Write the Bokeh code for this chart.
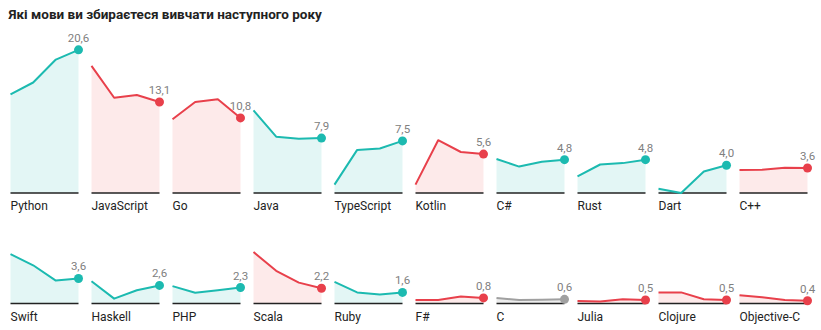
from bokeh.plotting import figure
from bokeh.models import Range1d, Label, ColumnDataSource
from bokeh.embed import file_html
from bokeh.resources import INLINE
from bokeh.core.properties import value

title = "Які мови ви збираєтеся вивчати наступного року"

languages = ["Python", "JavaScript", "Go", "Java", "TypeScript", "Kotlin", "C#", "Rust", "Dart", "C++",
             "Swift", "Haskell", "PHP", "Scala", "Ruby", "F#", "C", "Julia", "Clojure", "Objective-C"]

# four survey points per language (share, %)
point1 = [14.2, 18.3, 10.6, 11.9, 1.2, 1.2, 4.9, 2.4, 0.6, 3.3,
          7.1, 3.2, 2.5, 7.4, 3.1, 0.5, 0.8, 0.35, 1.6, 1.2]
point2 = [15.9, 13.7, 13.1, 8.1, 6.2, 7.6, 3.8, 4.1, 0.0, 3.35,
          5.5, 0.7, 1.55, 4.7, 1.6, 0.5, 0.5, 0.3, 1.6, 0.9]
point3 = [19.2, 14.1, 13.5, 7.8, 6.4, 5.9, 4.5, 4.3, 3.1, 3.65,
          3.3, 1.9, 1.9, 3.0, 1.3, 1.0, 0.55, 0.6, 0.6, 0.5]
point4 = [20.6, 13.1, 10.8, 7.9, 7.5, 5.6, 4.8, 4.8, 4.0, 3.6,
          3.6, 2.6, 2.3, 2.2, 1.6, 0.8, 0.6, 0.5, 0.5, 0.4]
value_labels = ["20,6", "13,1", "10,8", "7,9", "7,5", "5,6", "4,8", "4,8", "4,0", "3,6",
                "3,6", "2,6", "2,3", "2,2", "1,6", "0,8", "0,6", "0,5", "0,5", "0,4"]
groups = ["up", "down", "down", "up", "up", "down", "up", "up", "up", "down",
          "up", "up", "up", "down", "up", "down", "flat", "down", "down", "down"]

line_colors = {"up": "#1cbab0", "down": "#e8404b", "flat": "#a0a0a0"}
fill_colors = {"up": "#e3f6f5", "down": "#fdeaea", "flat": "#ededed"}

W, H = 821, 330
PX_X = 81.0      # pixels per panel column
PX_Y = 6.95      # pixels per percentage point
PANEL_W = 68.0 / PX_X
COLS = 10
row_base = [-192.5 / PX_Y, -303.0 / PX_Y]

p = figure(width=W, height=H, output_backend="svg", toolbar_location=None,
           x_range=Range1d(-10.0 / PX_X, (W - 10.0) / PX_X),
           y_range=Range1d(-H / PX_Y, 0),
           min_border=0, outline_line_color=None)
p.axis.visible = False
p.grid.visible = False
p.background_fill_color = "white"
p.border_fill_color = "white"

lx, ly, names, ex, ey = [], [], [], [], []
for i, lang in enumerate(languages):
    col = i % COLS
    base = row_base[i // COLS]
    series = [point1[i], point2[i], point3[i], point4[i]]
    xs = [col + k * PANEL_W / 3 for k in range(4)]
    ys = [base + v for v in series]
    g = groups[i]
    p.varea(x=xs, y1=[base] * 4, y2=ys, fill_color=fill_colors[g])
    p.line(x=[xs[0], xs[-1]], y=[base, base], line_color="#222222", line_width=1.6)
    p.line(x=xs, y=ys, line_color=line_colors[g], line_width=2, line_join="round")
    p.scatter(x=[xs[-1]], y=[ys[-1]], size=9, fill_color=line_colors[g], line_color=None)
    lx.append(col)
    ly.append(base)
    names.append(lang)
    ex.append(xs[-1])
    ey.append(ys[-1])

src_lab = ColumnDataSource(dict(x=lx, y=ly, t=names))
p.text(x="x", y="y", text="t", source=src_lab, y_offset=6, text_baseline="top",
       text_align="left", text_font=value("Roboto"),
       text_font_size="12px", text_color="#222222")

src_val = ColumnDataSource(dict(x=ex, y=ey, t=value_labels))
p.text(x="x", y="y", text="t", source=src_val, y_offset=-8, text_baseline="bottom",
       text_align="center", text_font=value("Roboto"),
       text_font_size="11.5px", text_color="#808080")

p.add_layout(Label(x=8, y=H - 21, x_units="screen", y_units="screen", text=title,
                   text_font="Roboto", text_font_style="bold",
                   text_font_size="13.5px", text_color="#222222"))

open("out.html", "w").write(file_html(p, INLINE))
